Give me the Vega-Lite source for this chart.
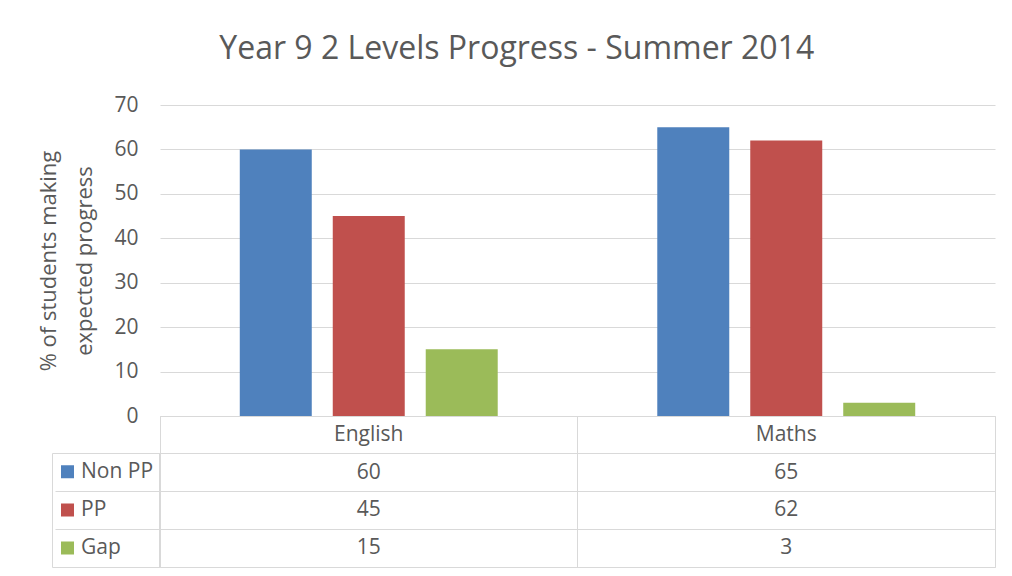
{
  "$schema": "https://vega.github.io/schema/vega-lite/v6.json",
  "padding": {"left": 37, "top": 33, "right": 0, "bottom": 0},
  "background": "white",
  "title": {"text": "Year 9 2 Levels Progress - Summer 2014", "fontSize": 32, "font": "Open Sans", "fontWeight": "normal", "color": "#595959", "anchor": "middle", "frame": "bounds", "offset": 28},
  "datasets": {
    "scores": [
      {"subject": "English", "series": "Non PP", "value": 60},
      {"subject": "English", "series": "PP", "value": 45},
      {"subject": "English", "series": "Gap", "value": 15},
      {"subject": "Maths", "series": "Non PP", "value": 65},
      {"subject": "Maths", "series": "PP", "value": 62},
      {"subject": "Maths", "series": "Gap", "value": 3}
    ],
    "subjects": [
      {"subject": "English"},
      {"subject": "Maths"}
    ]
  },
  "spacing": 0,
  "bounds": "flush",
  "resolve": {"legend": {"color": "independent"}},
  "vconcat": [
    {
      "width": 835,
      "height": 311,
      "view": {"stroke": null},
      "data": {"name": "scores"},
      "mark": {"type": "bar"},
      "encoding": {
        "x": {"field": "subject", "type": "nominal", "sort": ["English", "Maths"],
              "scale": {"paddingInner": 0, "paddingOuter": 0},
              "axis": null},
        "xOffset": {"field": "series", "type": "nominal", "sort": ["Non PP", "PP", "Gap"],
                    "scale": {"paddingInner": 0.2258, "paddingOuter": 0.858}},
        "y": {"field": "value", "type": "quantitative", "scale": {"domain": [0, 70]},
              "axis": {"values": [0, 10, 20, 30, 40, 50, 60, 70], "title": ["% of students making", "expected progress"],
                       "grid": true, "gridColor": "#d9d9d9", "domain": false, "ticks": false, "labelPadding": 22,
                       "labelFontSize": 21, "labelColor": "#595959", "titleFontSize": 22, "titleColor": "#595959",
                       "titleFontWeight": "normal", "titlePadding": 17, "titleLineHeight": 36}},
        "color": {"field": "series", "type": "nominal", "sort": ["Non PP", "PP", "Gap"],
                  "scale": {"domain": ["Non PP", "PP", "Gap"], "range": ["#4F81BD", "#C0504D", "#9BBB59"]},
                  "legend": null}
      }
    },
    {
      "width": 835,
      "height": 151,
      "view": {"stroke": "#d9d9d9"},
      "encoding": {
        "x": {"field": "subject", "type": "nominal", "sort": ["English", "Maths"],
              "scale": {"paddingInner": 0, "paddingOuter": 0},
              "axis": {"title": null, "labels": false, "ticks": false, "domain": false, "grid": true, "gridColor": "#d9d9d9", "bandPosition": 0}}
      },
      "layer": [
        {
          "data": {"name": "scores"},
          "mark": {"type": "rect", "opacity": 0},
          "encoding": {
            "y": {"field": "series", "type": "nominal",
                  "scale": {"domain": ["header", "Non PP", "PP", "Gap"], "paddingInner": 0, "paddingOuter": 0},
                  "axis": {"title": null, "labels": false, "domain": false, "ticks": true, "tickSize": 105, "tickColor": "#d9d9d9",
                           "grid": true, "gridColor": "#d9d9d9", "bandPosition": 1}},
            "color": {"field": "series", "type": "nominal", "sort": ["Non PP", "PP", "Gap"],
                      "scale": {"domain": ["Non PP", "PP", "Gap"], "range": ["#4F81BD", "#C0504D", "#9BBB59"]},
                      "legend": {"orient": "left", "offset": -105, "title": null, "symbolType": "square", "symbolSize": 169,
                                 "symbolOpacity": 1, "symbolStrokeWidth": 0, "labelFontSize": 21, "labelColor": "#595959",
                                 "labelOffset": 3, "padding": 5, "rowPadding": 10.07, "clipHeight": 27.7, "strokeColor": "#d9d9d9"}}
          }
        },
        {
          "data": {"name": "scores"},
          "mark": {"type": "text", "fontSize": 21, "color": "#595959"},
          "encoding": {
            "y": {"field": "series", "type": "nominal"},
            "text": {"field": "value", "type": "quantitative"}
          }
        },
        {
          "data": {"name": "subjects"},
          "mark": {"type": "text", "fontSize": 21, "color": "#595959"},
          "encoding": {
            "y": {"datum": "header", "type": "nominal"},
            "text": {"field": "subject", "type": "nominal"}
          }
        }
      ]
    }
  ],
  "config": {
    "font": "Open Sans",
    "axis": {"labelFont": "Open Sans", "titleFont": "Open Sans"},
    "legend": {"labelFont": "Open Sans", "layout": {"left": {"anchor": "end"}}},
    "text": {"font": "Open Sans"}
  }
}
